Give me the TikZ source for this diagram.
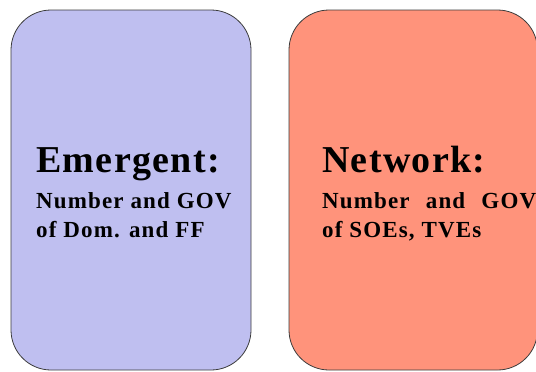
\documentclass[tikz,border=0pt]{standalone}
\usepackage{fontspec}
\usepackage{xcolor}
\usepackage{tikz}
\usetikzlibrary{positioning}
\newfontfamily\headfont[LetterSpace=3.5]{Liberation Serif}
\newfontfamily\cardfont[LetterSpace=5]{Liberation Serif}
\definecolor{emergentfill}{RGB}{191,191,240}
\definecolor{networkfill}{RGB}{255,147,123}
\definecolor{cardline}{RGB}{60,60,60}
\begin{document}
\begin{tikzpicture}
            [x=1pt,y=-1pt,
            card/.style={draw=cardline,line width=0.8pt,rounded corners=40pt},
            head/.style={anchor=base west,inner sep=0pt,font=\headfont\bfseries\fontsize{38}{40}\selectfont},
            sub/.style={anchor=base west,inner sep=0pt,font=\cardfont\bfseries\fontsize{23}{26}\selectfont}]
            \useasboundingbox (0,0) rectangle (536,372);
            \begin{scope}
            \clip (0,0) rectangle (536,372);
            \draw[card,fill=emergentfill] (11,10) rectangle (251,370);
            \draw[card,fill=networkfill] (289,10) rectangle (537.5,370);
            \end{scope}
            \node[head] (emergenthead) at (36,172) {Emergent:};
            \node[sub] (emergentone) at (36,208) {Number and GOV};
            \node[sub] (emergenttwo) at (36,237) {of Dom. and FF};
            \node[head] (networkhead) at (322,172) {Network:};
            \node[sub] (networkone) at (322,208) {\makebox[214pt][s]{Number and GOV}};
            \node[sub] (networktwo) at (322,237) {of SOEs, TVEs};
\end{tikzpicture}
\end{document}
